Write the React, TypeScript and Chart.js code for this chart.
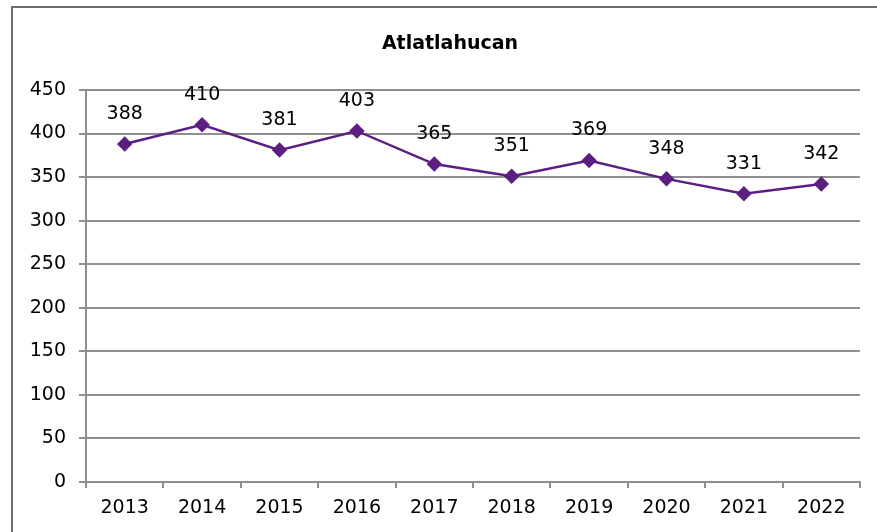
import React, { useEffect, useRef } from "react";
import { Chart, registerables } from "chart.js";

Chart.register(...registerables);

const TITLE = "Atlatlahucan";
const YEARS = ["2013", "2014", "2015", "2016", "2017", "2018", "2019", "2020", "2021", "2022"];
const VALUES = [388, 410, 381, 403, 365, 351, 369, 348, 331, 342];
const Y_MIN = 0;
const Y_MAX = 450;
const Y_STEP = 50;

const FONT = "'DejaVu Sans', sans-serif";
const LINE_COLOR = "#5C1E80";
const GRID = "#8f8f8f";

const framePlugin = {
  id: "frame",
  beforeDraw(chart: any) {
    const ctx = chart.ctx;
    ctx.save();
    ctx.fillStyle = "#ffffff";
    ctx.fillRect(0, 0, chart.width, chart.height);
    ctx.strokeStyle = "#6e6e6e";
    ctx.lineWidth = 2;
    ctx.strokeRect(12, 7, chart.width + 20, chart.height + 20);
    ctx.fillStyle = "#000";
    ctx.font = `bold 19px ${FONT}`;
    ctx.textAlign = "center";
    ctx.textBaseline = "middle";
    ctx.fillText(TITLE, 450, 44);
    ctx.restore();
  },
};

const labelPlugin = {
  id: "pointLabels",
  afterDatasetsDraw(chart: any) {
    const ctx = chart.ctx;
    const meta = chart.getDatasetMeta(0);
    ctx.save();
    ctx.fillStyle = "#000";
    ctx.font = `19px ${FONT}`;
    ctx.textAlign = "center";
    ctx.textBaseline = "middle";
    meta.data.forEach((pt: any, i: number) => {
      ctx.fillText(String(VALUES[i]), pt.x, pt.y - 30);
    });
    ctx.restore();
  },
};

export default function App() {
  const ref = useRef<HTMLCanvasElement>(null);
  useEffect(() => {
    if (!ref.current) return;
    const chart = new Chart(ref.current, {
      type: "line",
      data: {
        labels: YEARS,
        datasets: [
          {
            data: VALUES,
            borderColor: LINE_COLOR,
            backgroundColor: LINE_COLOR,
            borderWidth: 2.5,
            pointStyle: "rectRot",
            pointRadius: 6,
            pointHoverRadius: 6,
            pointBackgroundColor: LINE_COLOR,
            pointBorderColor: LINE_COLOR,
            tension: 0,
          },
        ],
      },
      options: {
        responsive: false,
        animation: false,
        events: [],
        layout: { padding: { left: 0, top: 90, right: 17, bottom: 0 } },
        plugins: { legend: { display: false }, tooltip: { enabled: false }, title: { display: false } },
        scales: {
          x: {
            type: "category",
            offset: true,
            grid: {
              offset: true,
              drawOnChartArea: false,
              drawTicks: true,
              tickLength: 6,
              color: GRID,
              lineWidth: 2,
            },
            border: { display: true, color: GRID, width: 2 },
            ticks: { color: "#000", font: { family: FONT, size: 19 }, padding: 9, maxRotation: 0, autoSkip: false },
            afterFit(scale: any) {
              scale.height = 50;
            },
          },
          y: {
            min: Y_MIN,
            max: Y_MAX,
            grid: { color: GRID, lineWidth: 2, tickLength: 7, drawTicks: true },
            border: { display: true, color: GRID, width: 2 },
            ticks: { stepSize: Y_STEP, color: "#000", font: { family: FONT, size: 19 }, padding: 13 },
            afterFit(scale: any) {
              scale.width = 86;
            },
          },
        },
      },
      plugins: [framePlugin, labelPlugin],
    });
    return () => chart.destroy();
  }, []);
  return (
    <div style={{ position: "absolute", left: 0, top: 0, width: 877, height: 532 }}>
      <canvas ref={ref} width={877} height={532} style={{ display: "block" }} />
    </div>
  );
}
